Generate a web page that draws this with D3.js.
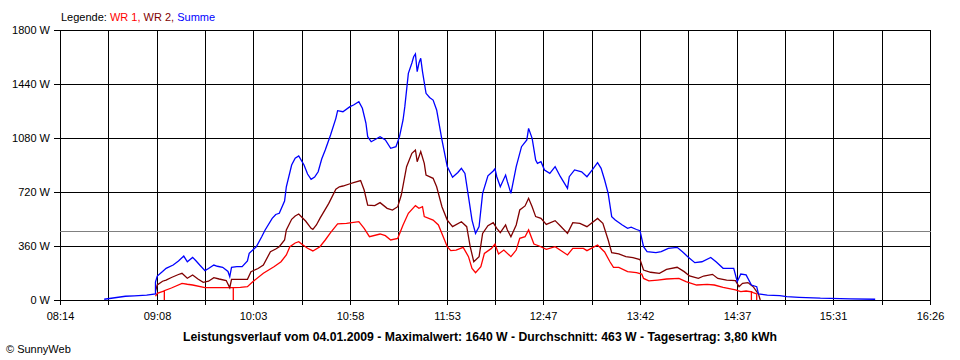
<!DOCTYPE html>
<html><head><meta charset="utf-8">
<script src="https://cdn.jsdelivr.net/npm/d3@7"></script>
<style>
body{margin:0;background:#fff}
svg{display:block}
text{font-family:"Liberation Sans",Arial,sans-serif}
</style>
</head><body>
<svg id="chart" width="960" height="360"></svg>
<script>
// ---------- data ----------
const legendPrefix = "Legende: ";
const seriesNames = ["WR 1", "WR 2", "Summe"];
const xTickLabels = ["08:14","09:08","10:03","10:58","11:53","12:47","13:42","14:37","15:31","16:26"];
const yTickValues = [0, 360, 720, 1080, 1440, 1800];
const averageW = 463;
const titleText = "Leistungsverlauf vom 04.01.2009 - Maximalwert: 1640 W - Durchschnitt: 463 W - Tagesertrag: 3,80 kWh";
const footerText = "\u00A9 SunnyWeb";

const wr1 = [["09:08",25],["09:09",44],["09:13",60],["09:13",0],["09:13",62],["09:17",80],["09:23",111],["09:26",105],["09:29",100],["09:36",82],["09:44",82],["09:52",82],["09:52",0],["09:52",82],["09:56",84],["10:00",89],["10:03",122],["10:09",178],["10:15",222],["10:19",255],["10:22",300],["10:24",355],["10:27",380],["10:29",389],["10:31",370],["10:34",345],["10:37",327],["10:41",355],["10:44",400],["10:47",449],["10:51",507],["10:56",511],["11:03",522],["11:06",478],["11:09",422],["11:15",440],["11:18",429],["11:21",400],["11:25",411],["11:28",500],["11:31",578],["11:35",629],["11:37",611],["11:39",622],["11:40",556],["11:45",533],["11:48",500],["11:53",355],["11:55",329],["11:58",333],["12:02",351],["12:05",289],["12:07",211],["12:09",182],["12:12",222],["12:14",311],["12:18",344],["12:20",373],["12:22",307],["12:25",333],["12:29",289],["12:32",333],["12:34",411],["12:37",422],["12:39",467],["12:42",373],["12:45",360],["12:49",338],["12:54",355],["13:01",300],["13:04",344],["13:10",344],["13:12",329],["13:18",367],["13:22",320],["13:25",255],["13:27",218],["13:30",218],["13:35",189],["13:40",182],["13:43",173],["13:44",144],["13:47",127],["13:52",133],["13:57",140],["14:04",144],["14:08",122],["14:14",100],["14:20",104],["14:24",100],["14:29",84],["14:36",67],["14:39",56],["14:42",60],["14:45",55],["14:45",0],["14:45",55],["14:46",49],["14:48",40],["14:48",0]];

const wr2 = [["09:08",60],["09:09",100],["09:12",125],["09:14",133],["09:17",150],["09:21",170],["09:23",178],["09:26",145],["09:29",167],["09:32",140],["09:35",118],["09:38",125],["09:41",149],["09:44",140],["09:48",130],["09:50",82],["09:51",138],["09:56",138],["10:00",138],["10:02",189],["10:06",210],["10:09",233],["10:13",322],["10:16",340],["10:18",355],["10:21",400],["10:22",467],["10:25",538],["10:27",560],["10:29",573],["10:33",525],["10:36",478],["10:37",471],["10:39",500],["10:41",544],["10:46",644],["10:50",738],["10:52",755],["10:54",760],["10:58",775],["11:00",782],["11:04",796],["11:06",733],["11:08",633],["11:12",629],["11:15",649],["11:19",611],["11:22",600],["11:25",622],["11:27",700],["11:30",889],["11:33",978],["11:35",1000],["11:36",922],["11:38",989],["11:40",911],["11:41",833],["11:45",811],["11:47",755],["11:50",622],["11:53",533],["11:56",489],["12:01",522],["12:04",489],["12:06",355],["12:08",255],["12:11",289],["12:13",444],["12:16",495],["12:19",516],["12:21",478],["12:23",449],["12:26",500],["12:27",467],["12:29",422],["12:32",500],["12:34",600],["12:37",627],["12:39",678],["12:41",622],["12:43",556],["12:46",544],["12:49",504],["12:54",529],["12:57",493],["13:01",444],["13:04",516],["13:08",511],["13:12",489],["13:18",544],["13:21",511],["13:24",400],["13:26",316],["13:30",307],["13:34",289],["13:38",282],["13:42",270],["13:44",200],["13:48",185],["13:53",178],["13:57",204],["14:03",218],["14:07",189],["14:10",160],["14:15",144],["14:18",160],["14:23",171],["14:26",144],["14:31",133],["14:36",129],["14:38",89],["14:40",111],["14:43",116],["14:46",89],["14:48",56],["14:49",40],["14:50",0]];

const summe = [["08:39",5],["08:45",15],["08:51",25],["08:56",28],["09:03",33],["09:08",40],["09:08",120],["09:09",160],["09:12",190],["09:14",211],["09:18",233],["09:21",260],["09:24",293],["09:26",255],["09:29",284],["09:31",260],["09:33",233],["09:36",196],["09:38",210],["09:41",233],["09:43",225],["09:46",218],["09:49",190],["09:50",155],["09:51",218],["09:54",222],["09:57",222],["10:00",260],["10:01",311],["10:05",355],["10:08",420],["10:10",467],["10:14",544],["10:16",570],["10:18",578],["10:21",660],["10:22",755],["10:25",900],["10:27",945],["10:29",960],["10:32",900],["10:34",840],["10:36",804],["10:38",820],["10:40",855],["10:42",940],["10:44",1000],["10:47",1100],["10:50",1211],["10:51",1262],["10:54",1255],["10:58",1289],["11:00",1300],["11:03",1322],["11:05",1278],["11:07",1180],["11:08",1089],["11:10",1055],["11:13",1075],["11:15",1089],["11:18",1067],["11:21",1011],["11:24",1022],["11:26",1089],["11:28",1200],["11:29",1289],["11:31",1511],["11:33",1580],["11:34",1622],["11:35",1640],["11:36",1522],["11:37",1580],["11:38",1611],["11:39",1522],["11:41",1378],["11:43",1350],["11:45",1333],["11:47",1267],["11:50",1067],["11:53",889],["11:56",818],["11:59",850],["12:01",878],["12:03",844],["12:05",689],["12:07",533],["12:09",444],["12:11",489],["12:13",711],["12:16",828],["12:19",860],["12:20",875],["12:21",822],["12:23",755],["12:26",833],["12:27",789],["12:29",711],["12:32",889],["12:35",1022],["12:38",1067],["12:39",1144],["12:41",1078],["12:43",933],["12:44",911],["12:46",922],["12:48",867],["12:51",844],["12:54",889],["12:57",822],["13:01",744],["13:02",822],["13:05",867],["13:09",855],["13:12",822],["13:15",867],["13:18",916],["13:20",878],["13:22",800],["13:24",711],["13:26",556],["13:28",533],["13:32",500],["13:35",478],["13:37",485],["13:40",470],["13:42",462],["13:44",355],["13:46",322],["13:51",316],["13:54",322],["13:58",344],["14:03",351],["14:06",322],["14:09",289],["14:13",249],["14:17",255],["14:22",284],["14:25",255],["14:29",211],["14:35",211],["14:37",122],["14:39",173],["14:42",167],["14:45",100],["14:48",89],["14:49",40],["14:54",33],["15:01",29],["15:05",22],["15:12",18],["15:24",12],["15:41",8],["15:55",5]];

// ---------- styles ----------
const colors = ["#ff0000", "#800000", "#0000ff"];
const margin = {left: 60, right: 30, top: 30, bottom: 60};
const W = 960, H = 360;

const toMin = s => { const [h, m] = s.split(":").map(Number); return h * 60 + m; };
const t0 = toMin(xTickLabels[0]), t1 = toMin(xTickLabels[xTickLabels.length - 1]);

const svg = d3.select("#chart");
const x = d3.scaleLinear().domain([t0, t1]).range([margin.left, W - margin.right]);
const y = d3.scaleLinear().domain([0, 1800]).range([H - margin.bottom, margin.top]);
const xr = x.copy().interpolate(d3.interpolateRound);
const yr = y.copy().interpolate(d3.interpolateRound);

const nSub = (xTickLabels.length - 1) * 2;
const gridTimes = d3.range(nSub + 1).map(i => t0 + i * (t1 - t0) / nSub);

// grid
const grid = svg.append("g").attr("stroke", "#000").attr("stroke-width", 1).attr("shape-rendering", "crispEdges");
grid.selectAll("line.v").data(gridTimes).join("line")
  .attr("x1", d => xr(d) + 0.5).attr("x2", d => xr(d) + 0.5)
  .attr("y1", yr(1800)).attr("y2", yr(0));
grid.selectAll("line.h").data(yTickValues).join("line")
  .attr("x1", margin.left).attr("x2", W - margin.right + 1)
  .attr("y1", d => yr(d) + 0.5).attr("y2", d => yr(d) + 0.5);

// axes
const xAxis = d3.axisBottom(xr).tickValues(gridTimes).tickSize(5).tickPadding(7)
  .tickFormat((d, i) => i % 2 ? "" : xTickLabels[i / 2]);
const gx = svg.append("g").attr("transform", `translate(0,${yr(0)})`).call(xAxis);
const yAxis = d3.axisLeft(yr).tickValues(yTickValues).tickSize(6).tickPadding(4).tickFormat(d => d + " W");
const gy = svg.append("g").attr("transform", `translate(${margin.left},0)`).call(yAxis);
[gx, gy].forEach(g => {
  g.select(".domain").remove();
  g.selectAll("line").attr("stroke", "#000").attr("shape-rendering", "crispEdges");
  g.selectAll("text").attr("fill", "#000").style("font-size", "11px").style("font-family", '"Liberation Sans",Arial,sans-serif');
});

// average line
svg.append("line")
  .attr("x1", margin.left).attr("x2", W - margin.right + 1)
  .attr("y1", yr(averageW) + 0.5).attr("y2", yr(averageW) + 0.5)
  .attr("stroke", "#808080").attr("shape-rendering", "crispEdges");

// series
const line = d3.line().x(d => x(toMin(d[0]))).y(d => y(d[1]));
[wr1, wr2, summe].forEach((s, i) => {
  svg.append("path").datum(s).attr("d", line)
    .attr("fill", "none").attr("stroke", colors[i]).attr("stroke-width", 1.3)
    .attr("stroke-linejoin", "miter");
});

// legend
const lg = svg.append("text").attr("x", 61).attr("y", 21).style("font-size", "11px");
lg.append("tspan").attr("fill", "#000").text(legendPrefix);
seriesNames.forEach((n, i) => {
  lg.append("tspan").attr("fill", colors[i]).text(n + (i < seriesNames.length - 1 ? ", " : ""));
});

// title
svg.append("text").attr("x", 480).attr("y", 341).attr("text-anchor", "middle")
  .attr("textLength", 594).attr("lengthAdjust", "spacingAndGlyphs")
  .style("font-size", "12px").style("font-weight", "bold").text(titleText);

// footer
svg.append("text").attr("x", 6).attr("y", 353).style("font-size", "11px").text(footerText);
</script>
</body></html>
